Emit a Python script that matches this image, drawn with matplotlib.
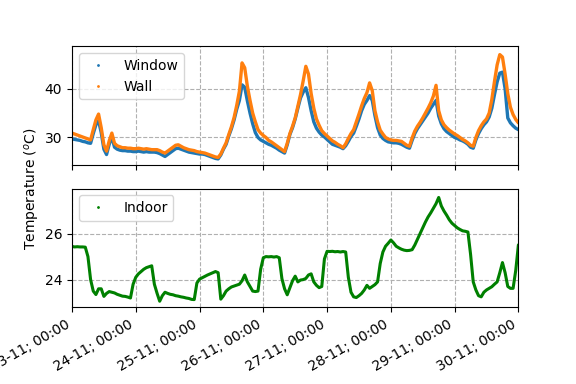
import matplotlib
matplotlib.use("Agg")
import matplotlib.pyplot as plt
import matplotlib.dates as mdates
from matplotlib.lines import Line2D
import pandas as pd

start = "2019-11-23 00:00"
n_hours = 169

window = [29.7, 29.6, 29.5, 29.4, 29.2, 29.1, 28.9, 28.8, 30.8, 32.6,
          33.4, 31.0, 27.6, 26.5, 28.6, 30.1, 28.0, 27.6, 27.4, 27.3,
          27.3, 27.2, 27.2, 27.1, 27.1, 27.2, 27.1, 27.0, 27.1, 27.0,
          27.0, 27.0, 26.9, 26.7, 26.4, 26.1, 26.5, 26.9, 27.3, 27.7,
          27.8, 27.6, 27.4, 27.2, 27.0, 26.9, 26.8, 26.7, 26.6, 26.6,
          26.5, 26.3, 26.1, 25.9, 25.7, 25.6, 26.4, 27.6, 28.6, 30.3,
          31.8, 33.6, 35.8, 37.6, 40.8, 40.3, 37.5, 35.0, 32.8, 31.0,
          30.0, 29.5, 29.2, 28.9, 28.6, 28.4, 28.1, 27.8, 27.4, 27.1,
          26.8, 28.5, 30.6, 32.0, 33.8, 36.0, 38.1, 39.3, 40.2, 38.2,
          35.5, 33.2, 31.9, 31.1, 30.5, 30.1, 29.6, 29.1, 28.6, 28.4,
          28.2, 28.0, 27.7, 28.3, 29.2, 30.2, 30.9, 32.3, 33.8, 35.5,
          36.8, 37.6, 38.6, 37.6, 34.5, 32.0, 30.5, 29.8, 29.4, 29.1,
          29.0, 28.9, 28.9, 28.8, 28.6, 28.3, 28.0, 27.8, 29.4, 30.8,
          31.8, 32.6, 33.4, 34.2, 35.0, 36.0, 36.8, 37.6, 34.4, 32.8,
          31.8, 31.2, 30.8, 30.4, 30.0, 29.8, 29.5, 29.3, 29.0, 28.6,
          28.0, 27.8, 29.5, 30.8, 31.8, 32.6, 33.2, 34.2, 36.0, 38.8,
          41.4, 43.2, 43.4, 40.0, 34.0, 33.0, 32.4, 31.9, 31.6]

wall = [30.9, 30.7, 30.5, 30.3, 30.1, 29.9, 29.7, 29.5, 31.6, 33.6,
        34.8, 32.0, 28.5, 27.2, 29.3, 30.9, 28.8, 28.3, 28.1, 27.9,
        27.9, 27.8, 27.8, 27.7, 27.7, 27.8, 27.7, 27.6, 27.7, 27.6,
        27.5, 27.5, 27.5, 27.3, 27.0, 26.8, 27.2, 27.6, 28.0, 28.4,
        28.5, 28.2, 27.9, 27.7, 27.5, 27.4, 27.3, 27.1, 27.0, 26.9,
        26.8, 26.6, 26.4, 26.2, 26.0, 25.9, 26.6, 27.8, 28.9, 30.6,
        32.2, 34.1, 36.6, 39.5, 45.3, 44.3, 40.5, 37.6, 35.0, 33.2,
        31.6, 30.9, 30.4, 30.0, 29.4, 29.1, 28.7, 28.3, 27.9, 27.5,
        27.1, 28.8, 30.8, 32.3, 34.0, 36.4, 38.8, 41.6, 44.6, 43.0,
        39.0, 36.0, 33.8, 32.5, 31.4, 30.8, 30.3, 29.8, 29.3, 29.0,
        28.6, 28.3, 27.9, 28.7, 29.8, 30.8, 31.6, 33.2, 34.8, 36.5,
        38.0, 39.2, 41.2, 39.6, 35.5, 33.2, 31.5, 30.7, 30.0, 29.7,
        29.5, 29.4, 29.4, 29.3, 29.2, 28.8, 28.4, 28.2, 29.9, 31.3,
        32.3, 33.1, 34.0, 35.0, 36.0, 37.1, 38.5, 40.7, 35.5, 33.6,
        32.6, 32.0, 31.5, 31.1, 30.7, 30.4, 30.0, 29.6, 29.3, 28.9,
        28.4, 28.2, 30.0, 31.4, 32.4, 33.2, 33.8, 35.0, 37.8, 41.5,
        44.9, 47.0, 46.5, 43.0, 39.0, 36.2, 34.7, 33.7, 33.0]

indoor = [25.44, 25.42, 25.43, 25.42, 25.42, 25.41, 25.0, 24.0, 23.5, 23.35,
          23.6, 23.6, 23.27, 23.4, 23.48, 23.45, 23.42, 23.36, 23.32, 23.28,
          23.27, 23.24, 23.2, 23.8, 24.1, 24.25, 24.35, 24.45, 24.52, 24.56,
          24.6, 23.8, 23.41, 23.06, 23.3, 23.45, 23.4, 23.36, 23.34, 23.3,
          23.28, 23.25, 23.23, 23.2, 23.18, 23.14, 23.13, 23.85, 24.02, 24.08,
          24.14, 24.2, 24.25, 24.3, 24.35, 24.3, 23.15, 23.3, 23.5, 23.6,
          23.68, 23.72, 23.76, 23.8, 23.95, 24.2, 23.9, 23.7, 23.5, 23.48,
          23.5, 24.45, 24.95, 25.0, 24.99, 25.0, 24.98, 25.0, 24.95, 24.04,
          23.6, 23.34, 23.65, 23.95, 24.15, 23.9, 23.98, 24.0, 24.05, 24.2,
          24.25, 23.9, 23.75, 23.65, 23.7, 24.9, 25.23, 25.22, 25.23, 25.21,
          25.22, 25.2, 25.22, 25.2, 24.1, 23.45, 23.25, 23.22, 23.3, 23.4,
          23.55, 23.75, 23.62, 23.7, 23.78, 23.9, 24.7, 25.2, 25.45, 25.58,
          25.72, 25.6, 25.45, 25.38, 25.32, 25.28, 25.26, 25.27, 25.3, 25.5,
          25.75, 26.0, 26.25, 26.5, 26.72, 26.9, 27.1, 27.3, 27.57, 27.2,
          26.98, 26.8, 26.6, 26.45, 26.35, 26.25, 26.18, 26.12, 26.1, 26.07,
          25.1, 23.9, 23.55, 23.3, 23.25, 23.45, 23.55, 23.62, 23.69, 23.8,
          23.9, 24.3, 24.74, 24.3, 23.7, 23.62, 23.62, 24.4, 25.51]

top_yticks = [30, 40]
bottom_yticks = [24, 26]

t = pd.date_range(start, periods=n_hours, freq="h")

fig, (ax1, ax2) = plt.subplots(2, 1, sharex=True, figsize=(5.76, 3.84), dpi=100)

ax1.plot(t, window, color="C0", lw=2.4, solid_capstyle="round")
ax1.plot(t, wall, color="C1", lw=2.4, solid_capstyle="round")
ax2.plot(t, indoor, color="green", lw=2.2, solid_capstyle="round")

h1 = [Line2D([], [], ls="", marker=".", ms=2, color="C0", label="Window"),
      Line2D([], [], ls="", marker=".", ms=2, color="C1", label="Wall")]
ax1.legend(handles=h1, loc="upper left")
h2 = [Line2D([], [], ls="", marker=".", ms=2, color="green", label="Indoor")]
ax2.legend(handles=h2, loc="upper left")

ax1.set_yticks(top_yticks)
ax2.set_yticks(bottom_yticks)
ax1.set_ylim(24.4, 48.75)
ax2.set_ylim(22.8, 27.96)
for ax in (ax1, ax2):
    ax.grid(True, ls="--", color="#b0b0b0")
    ax.set_xlim(t[0], t[-1])

ax2.xaxis.set_major_locator(mdates.DayLocator())
ax2.xaxis.set_major_formatter(mdates.DateFormatter("%d-%m; %H:%M"))
fig.autofmt_xdate()

fig.text(0.04, 0.51, "Temperature ($^o$C)", rotation="vertical", va="center", ha="left")

fig.savefig("out.png", dpi=100)
